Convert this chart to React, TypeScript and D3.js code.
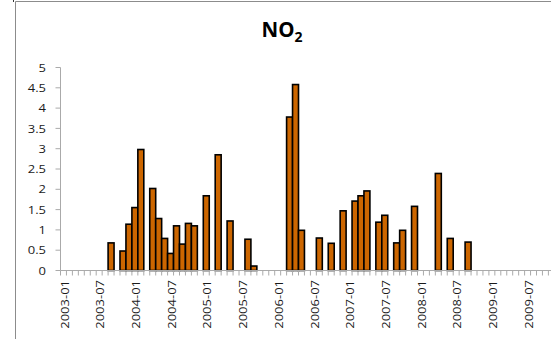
import React from "react";
import * as d3 from "d3";

const title = "NO";
const titleSub = "2";

const startYear = 2003;
const endYear = 2009;

const barMonths = [
  "2003-09", "2003-11", "2003-12", "2004-01", "2004-02", "2004-04", "2004-05",
  "2004-06", "2004-07", "2004-08", "2004-09", "2004-10", "2004-11", "2005-01",
  "2005-03", "2005-05", "2005-08", "2005-09", "2006-03", "2006-04", "2006-05",
  "2006-08", "2006-10", "2006-12", "2007-02", "2007-03", "2007-04", "2007-06",
  "2007-07", "2007-09", "2007-10", "2007-12", "2008-04", "2008-06", "2008-09",
];
const barValues = [
  0.68, 0.48, 1.14, 1.55, 2.98, 2.02, 1.28,
  0.79, 0.42, 1.1, 0.65, 1.16, 1.1, 1.84,
  2.85, 1.22, 0.77, 0.11, 3.78, 4.58, 0.99,
  0.8, 0.67, 1.47, 1.71, 1.84, 1.96, 1.19,
  1.36, 0.68, 0.99, 1.58, 2.39, 0.79, 0.7,
];
const yTicks = [0, 0.5, 1, 1.5, 2, 2.5, 3, 3.5, 4, 4.5, 5];
const xTickLabels = [
  "2003-01", "2003-07", "2004-01", "2004-07", "2005-01", "2005-07", "2006-01",
  "2006-07", "2007-01", "2007-07", "2008-01", "2008-07", "2009-01", "2009-07",
];

const months: string[] = [];
for (let y = startYear; y <= endYear; y++) {
  for (let m = 1; m <= 12; m++) months.push(`${y}-${String(m).padStart(2, "0")}`);
}

export default function App() {
  const W = 551;
  const H = 339;
  const left = 60.5;
  const catW = 5.95;
  const x = d3
    .scaleBand<string>()
    .domain(months)
    .range([left, left + months.length * catW])
    .padding(0);
  const y = d3.scaleLinear().domain([0, 5]).range([270.5, 67.5]);
  const font = "'Open Sans', sans-serif";
  const axisColor = "#aaaaaa";
  const textColor = "#1a1a1a";

  return (
    <svg
      width={W}
      height={H}
      style={{ position: "absolute", left: 0, top: 0, background: "#fff" }}
    >
      <rect x={0} y={0} width={W} height={H} fill="#fff" />
      {/* chart frame (cropped) */}
      <line x1={15.5} x2={W} y1={1.5} y2={1.5} stroke="#8c8c8c" strokeWidth={1} />
      <line x1={15.5} x2={15.5} y1={1.5} y2={H} stroke="#8c8c8c" strokeWidth={1} />
      <line x1={13.5} x2={13.5} y1={0} y2={2} stroke="#333" strokeWidth={1} />

      {/* title */}
      <text
        x={282}
        y={37}
        textAnchor="middle"
        fontFamily={font}
        fontWeight="bold"
        fontSize={20.5}
        fill="#000"
      >
        {title}
        <tspan fontSize={14} dy={5}>
          {titleSub}
        </tspan>
      </text>

      {/* y axis */}
      <line x1={left} x2={left} y1={y(5)} y2={y(0)} stroke={axisColor} />
      {yTicks.map((t) => (
        <g key={t}>
          <line x1={left - 5} x2={left} y1={y(t)} y2={y(t)} stroke={axisColor} />
          <text
            transform={`translate(46,${y(t)}) scale(1,0.88)`}
            dy="0.36em"
            textAnchor="end"
            fontFamily={font}
            fontSize={13}
            fill={textColor}
          >
            {t}
          </text>
        </g>
      ))}

      {/* bars */}
      {barMonths.map((m, i) => (
        <rect
          key={m}
          x={x(m)!}
          y={y(barValues[i])}
          width={x.bandwidth()}
          height={y(0) - y(barValues[i])}
          fill="#cc6600"
          stroke="#000"
          strokeWidth={1.6}
        />
      ))}

      {/* x axis */}
      <line x1={left} x2={left + months.length * catW} y1={y(0)} y2={y(0)} stroke={axisColor} />
      {months.map((m) => (
        <line
          key={m}
          x1={x(m)!}
          x2={x(m)!}
          y1={y(0)}
          y2={y(0) + 5}
          stroke={axisColor}
        />
      ))}
      {xTickLabels.map((m) => {
        const cx = x(m)! + x.bandwidth() / 2;
        return (
          <text
            key={m}
            transform={`translate(${cx + 1},280) rotate(-90) scale(1,0.88)`}
            dy="0.36em"
            textAnchor="end"
            fontFamily={font}
            fontSize={13}
            fill={textColor}
          >
            {m}
          </text>
        );
      })}
    </svg>
  );
}
